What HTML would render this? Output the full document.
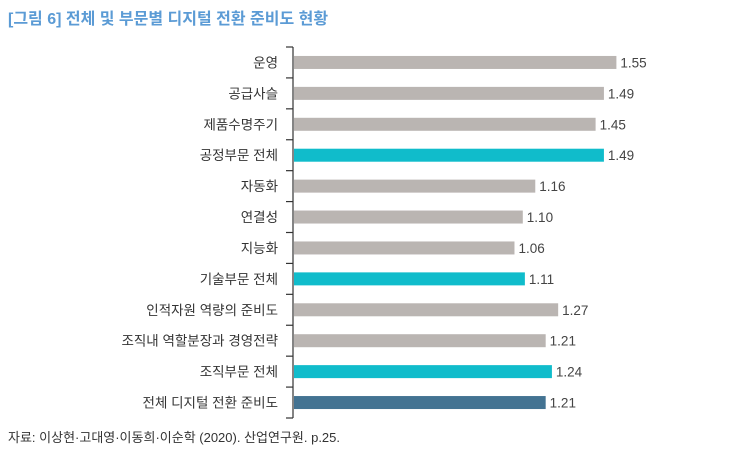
<!DOCTYPE html>
<html><head><meta charset="utf-8"><style>
body{margin:0;background:#fff;width:752px;height:457px;overflow:hidden;font-family:"Liberation Sans","Noto Sans CJK KR",sans-serif;}
</style></head><body>
<svg width="752" height="457" xmlns="http://www.w3.org/2000/svg">
<text x="8" y="24" font-size="16" font-weight="bold" fill="#5b9bd5" font-family="Liberation Sans, Noto Sans CJK KR, sans-serif">[그림 6] 전체 및 부문별 디지털 전환 준비도 현황</text>
<g id="plot"></g>
<text x="8" y="442" font-size="13" fill="#333" font-family="Liberation Sans, Noto Sans CJK KR, sans-serif">자료: 이상현·고대영·이동희·이순학 (2020). 산업연구원. p.25.</text>
</svg>
<script>
const categories=["운영","공급사슬","제품수명주기","공정부문 전체","자동화","연결성","지능화","기술부문 전체","인적자원 역량의 준비도","조직내 역할분장과 경영전략","조직부문 전체","전체 디지털 전환 준비도"];
const values=[1.55,1.49,1.45,1.49,1.16,1.10,1.06,1.11,1.27,1.21,1.24,1.21];
const valueLabels=["1.55","1.49","1.45","1.49","1.16","1.10","1.06","1.11","1.27","1.21","1.24","1.21"];
const kinds=["item","item","item","total","item","item","item","total","item","item","total","grand"];
const colors={item:"#bab5b2",total:"#10bccb",grand:"#437392"};
const ns="http://www.w3.org/2000/svg";
const g=document.getElementById('plot');
const x0=294,yTop=47,yBottom=418,scale=208;
const band=(yBottom-yTop)/categories.length;
const xs=v=>x0+v*scale;
const ys=i=>yTop+band*i;
function mk(t,a){const e=document.createElementNS(ns,t);for(const k in a)e.setAttribute(k,a[k]);g.appendChild(e);return e;}
const ax=mk('line',{x1:x0-1,y1:yTop,x2:x0-1,y2:yBottom,stroke:'#333','stroke-width':1.2});


for(let i=0;i<=categories.length;i++){
 const t=mk('line',{x1:x0-8,y1:ys(i),x2:x0-1,y2:ys(i),stroke:'#333','stroke-width':1.2});
 
 
}
categories.forEach((c,i)=>{
 const cy=ys(i)+band/2;
 const r=mk('rect',{x:x0,y:cy-6.5,width:xs(values[i])-x0,height:13,fill:colors[kinds[i]]});
 
 
 const l=mk('text',{x:x0-16,y:cy+5,'text-anchor':'end','font-size':13.5,fill:'#333'});
 l.textContent=c;
 
 
 const v=mk('text',{x:xs(values[i])+4,y:cy+5,'font-size':13.5,fill:'#444'});
 v.textContent=valueLabels[i];
 
 
});
</script>
</body></html>
